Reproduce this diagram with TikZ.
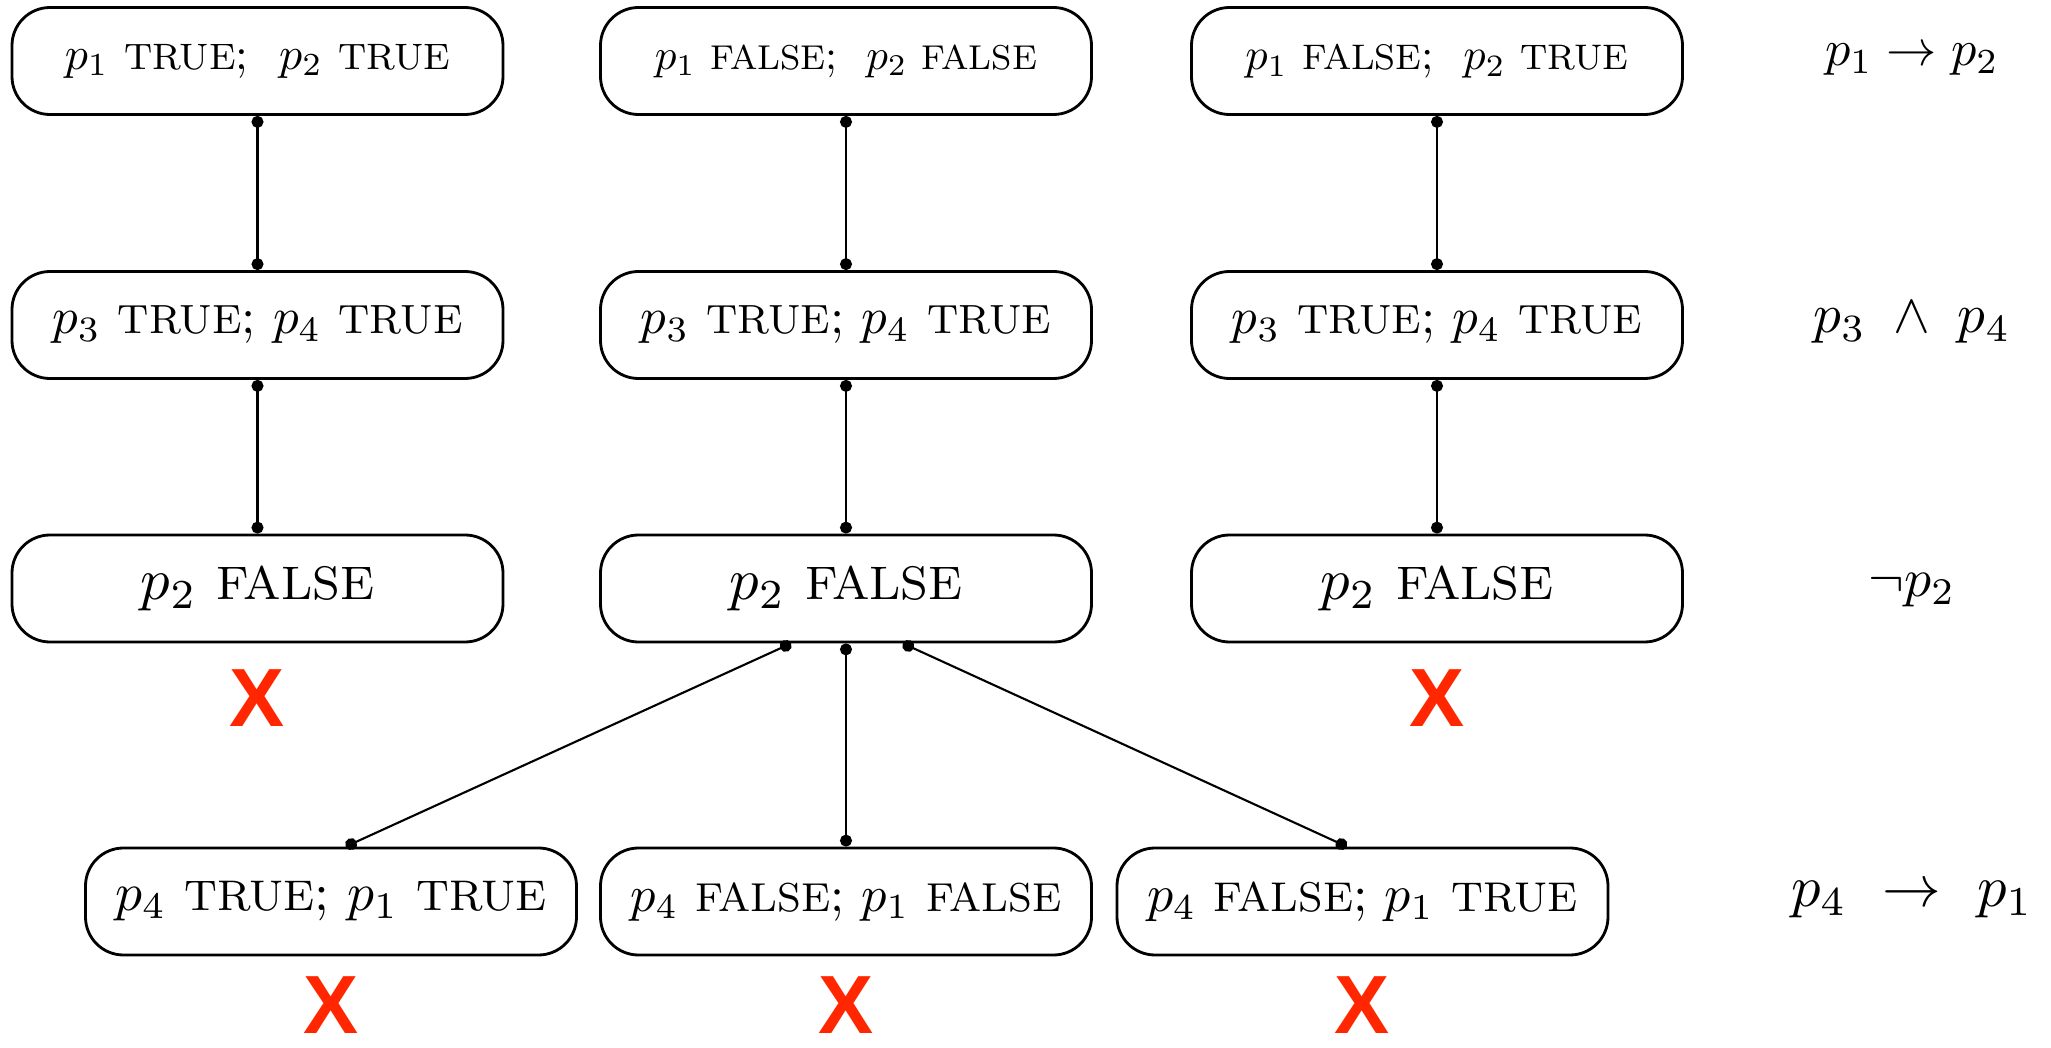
\documentclass[tikz,border=0pt]{standalone}
\usepackage{fontspec}
\usepackage{graphicx}
\usetikzlibrary{positioning,arrows.meta}
\newfontfamily\crossfont{Liberation Sans}
\definecolor{crossred}{RGB}{255,38,0}
\newcommand{\tv}[1]{{\footnotesize #1}}
\newcommand{\fitw}[2]{\resizebox{#1}{!}{#2}}

\tikzset{
  world/.style={draw, line width=0.8pt, rounded corners=0.38cm,
    minimum width=4.91cm, minimum height=1.07cm, inner sep=0pt},
  link/.style={line width=0.6pt, {Circle[length=3.4pt]}-{Circle[length=3.4pt]}},
  cross/.style={text=crossred, inner sep=0pt,
    font=\crossfont\bfseries\fontsize{23.5}{25}\selectfont},
  formula/.style={inner sep=0pt},
}

\begin{document}
\begin{tikzpicture}
\useasboundingbox (0,0) rectangle (20.51,-10.48);
% first row
\node[world] (A1) at (2.575,-0.61) {\fitw{3.85cm}{$p_1$ \tv{TRUE};\ \ $p_2$ \tv{TRUE}}};
\node[world] (B1) at (8.46,-0.61) {\fitw{3.82cm}{$p_1$ \tv{FALSE};\ \ $p_2$ \tv{FALSE}}};
\node[world] (C1) at (14.37,-0.61) {\fitw{3.83cm}{$p_1$ \tv{FALSE};\ \ $p_2$ \tv{TRUE}}};
% second row
\node[world] (A2) at (2.575,-3.25) {\fitw{4.1cm}{$p_3$ \tv{TRUE};\ $p_4$ \tv{TRUE}}};
\node[world] (B2) at (8.46,-3.25) {\fitw{4.1cm}{$p_3$ \tv{TRUE};\ $p_4$ \tv{TRUE}}};
\node[world] (C2) at (14.37,-3.25) {\fitw{4.1cm}{$p_3$ \tv{TRUE};\ $p_4$ \tv{TRUE}}};
% third row
\node[world] (A3) at (2.575,-5.885) {\fitw{2.33cm}{$p_2$ \tv{FALSE}}};
\node[world] (B3) at (8.46,-5.885) {\fitw{2.33cm}{$p_2$ \tv{FALSE}}};
\node[world] (C3) at (14.37,-5.885) {\fitw{2.33cm}{$p_2$ \tv{FALSE}}};
% fourth row
\node[world] (A4) at (3.31,-9.015) {\fitw{4.31cm}{$p_4$ \tv{TRUE};\ $p_1$ \tv{TRUE}}};
\node[world] (B4) at (8.46,-9.015) {\fitw{4.31cm}{$p_4$ \tv{FALSE};\ $p_1$ \tv{FALSE}}};
\node[world] (C4) at (13.625,-9.015) {\fitw{4.31cm}{$p_4$ \tv{FALSE};\ $p_1$ \tv{TRUE}}};

\foreach \c in {A,B,C} {
  \draw[link] (\c1) -- (\c2);
  \draw[link] (\c2) -- (\c3);
}
\draw[link] (B3.225) -- (A4.75);
\draw[link] (B3) -- (B4);
\draw[link] (B3.-44) -- (C4.106);

% closed branches
\node[cross, below=0.26cm of A3] (xA3) {X};
\node[cross, below=0.26cm of C3] (xC3) {X};
\node[cross, below=0.2cm of A4] (xA4) {X};
\node[cross, below=0.2cm of B4] (xB4) {X};
\node[cross, below=0.2cm of C4] (xC4) {X};

% formulas
\node[formula] (f1) at (19.12,-0.6) {\fitw{1.74cm}{$p_1 \to p_2$}};
\node[formula] (f2) at (19.12,-3.23) {\fitw{1.97cm}{$p_3 \;\wedge\; p_4$}};
\node[formula] (f3) at (19.12,-5.9) {\fitw{0.87cm}{$\neg p_2$}};
\node[formula] (f4) at (19.12,-9.0) {\fitw{2.42cm}{$p_4 \ \to\ p_1$}};
\end{tikzpicture}
\end{document}
